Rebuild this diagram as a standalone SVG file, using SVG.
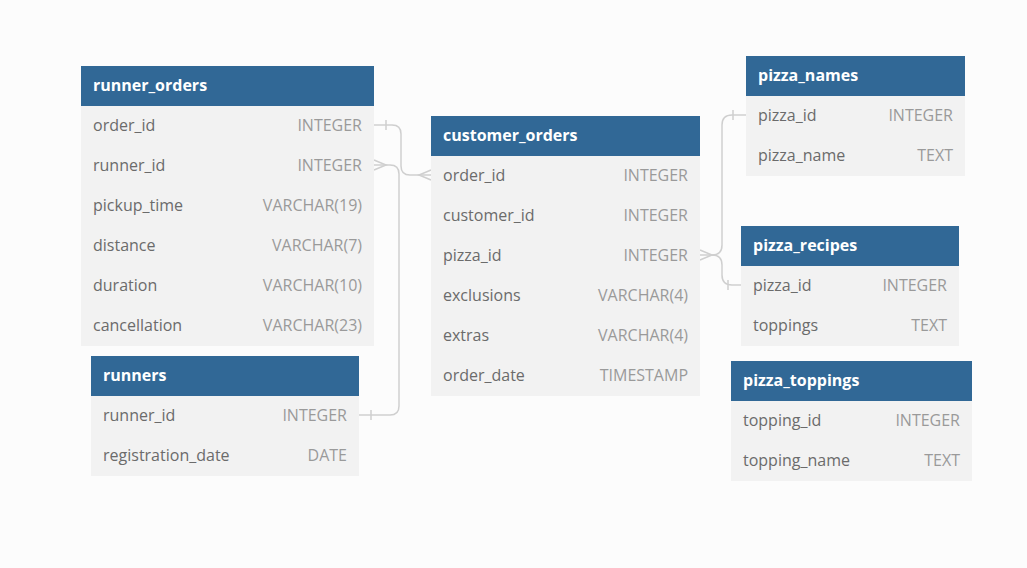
<svg xmlns="http://www.w3.org/2000/svg" width="1027" height="568" viewBox="0 0 1027 568">
<style>
.bg{fill:#fcfcfc}
.hd{fill:#316896}
.bd{fill:#f2f2f2}
.ht{font-family:"Open Sans","Noto Sans",sans-serif;font-size:16px;font-weight:bold;fill:#ffffff}
.fn{font-family:"Open Sans","Noto Sans",sans-serif;font-size:16px;fill:#6b6b6b}
.ft{font-family:"Open Sans","Noto Sans",sans-serif;font-size:16px;fill:#9a9a9a;text-anchor:end}
.ln{fill:none;stroke:#cfcfcf;stroke-width:1.5}
</style>
<rect class="bg" x="0" y="0" width="1027" height="568"/>
<g id="connectors">
<path class="ln" d="M374,125 H392 Q401,125 401,134 V166 Q401,175 410,175 H431"/>
<path class="ln" d="M386,120 V130"/>
<path class="ln" d="M431,170 L419,175 L431,180"/>
<path class="ln" d="M374,165 H390 Q399,165 399,174 V406 Q399,415 390,415 H359"/>
<path class="ln" d="M374,160 L386,165 L374,170"/>
<path class="ln" d="M371,410 V420"/>
<path class="ln" d="M700,255 H712 Q722,255 722,245 V125 Q722,115 732,115 H746"/>
<path class="ln" d="M712,255 Q722,255 722,265 V275 Q722,285 732,285 H741"/>
<path class="ln" d="M700,250 L712,255 L700,260"/>
<path class="ln" d="M733,110 V120"/>
<path class="ln" d="M728,280 V290"/>
</g>
<g id="runner_orders">
<rect class="hd" x="81" y="66" width="293" height="40"/>
<rect class="bd" x="81" y="106" width="293" height="240"/>
<text class="ht" x="93" y="91">runner_orders</text>
<text class="fn" x="93" y="131">order_id</text><text class="ft" x="362" y="131">INTEGER</text>
<text class="fn" x="93" y="171">runner_id</text><text class="ft" x="362" y="171">INTEGER</text>
<text class="fn" x="93" y="211">pickup_time</text><text class="ft" x="362" y="211">VARCHAR(19)</text>
<text class="fn" x="93" y="251">distance</text><text class="ft" x="362" y="251">VARCHAR(7)</text>
<text class="fn" x="93" y="291">duration</text><text class="ft" x="362" y="291">VARCHAR(10)</text>
<text class="fn" x="93" y="331">cancellation</text><text class="ft" x="362" y="331">VARCHAR(23)</text>
</g>
<g id="runners">
<rect class="hd" x="91" y="356" width="268" height="40"/>
<rect class="bd" x="91" y="396" width="268" height="80"/>
<text class="ht" x="103" y="381">runners</text>
<text class="fn" x="103" y="421">runner_id</text><text class="ft" x="347" y="421">INTEGER</text>
<text class="fn" x="103" y="461">registration_date</text><text class="ft" x="347" y="461">DATE</text>
</g>
<g id="customer_orders">
<rect class="hd" x="431" y="116" width="269" height="40"/>
<rect class="bd" x="431" y="156" width="269" height="240"/>
<text class="ht" x="443" y="141">customer_orders</text>
<text class="fn" x="443" y="181">order_id</text><text class="ft" x="688" y="181">INTEGER</text>
<text class="fn" x="443" y="221">customer_id</text><text class="ft" x="688" y="221">INTEGER</text>
<text class="fn" x="443" y="261">pizza_id</text><text class="ft" x="688" y="261">INTEGER</text>
<text class="fn" x="443" y="301">exclusions</text><text class="ft" x="688" y="301">VARCHAR(4)</text>
<text class="fn" x="443" y="341">extras</text><text class="ft" x="688" y="341">VARCHAR(4)</text>
<text class="fn" x="443" y="381">order_date</text><text class="ft" x="688" y="381">TIMESTAMP</text>
</g>
<g id="pizza_names">
<rect class="hd" x="746" y="56" width="219" height="40"/>
<rect class="bd" x="746" y="96" width="219" height="80"/>
<text class="ht" x="758" y="81">pizza_names</text>
<text class="fn" x="758" y="121">pizza_id</text><text class="ft" x="953" y="121">INTEGER</text>
<text class="fn" x="758" y="161">pizza_name</text><text class="ft" x="953" y="161">TEXT</text>
</g>
<g id="pizza_recipes">
<rect class="hd" x="741" y="226" width="218" height="40"/>
<rect class="bd" x="741" y="266" width="218" height="80"/>
<text class="ht" x="753" y="251">pizza_recipes</text>
<text class="fn" x="753" y="291">pizza_id</text><text class="ft" x="947" y="291">INTEGER</text>
<text class="fn" x="753" y="331">toppings</text><text class="ft" x="947" y="331">TEXT</text>
</g>
<g id="pizza_toppings">
<rect class="hd" x="731" y="361" width="241" height="40"/>
<rect class="bd" x="731" y="401" width="241" height="80"/>
<text class="ht" x="743" y="386">pizza_toppings</text>
<text class="fn" x="743" y="426">topping_id</text><text class="ft" x="960" y="426">INTEGER</text>
<text class="fn" x="743" y="466">topping_name</text><text class="ft" x="960" y="466">TEXT</text>
</g>
</svg>
